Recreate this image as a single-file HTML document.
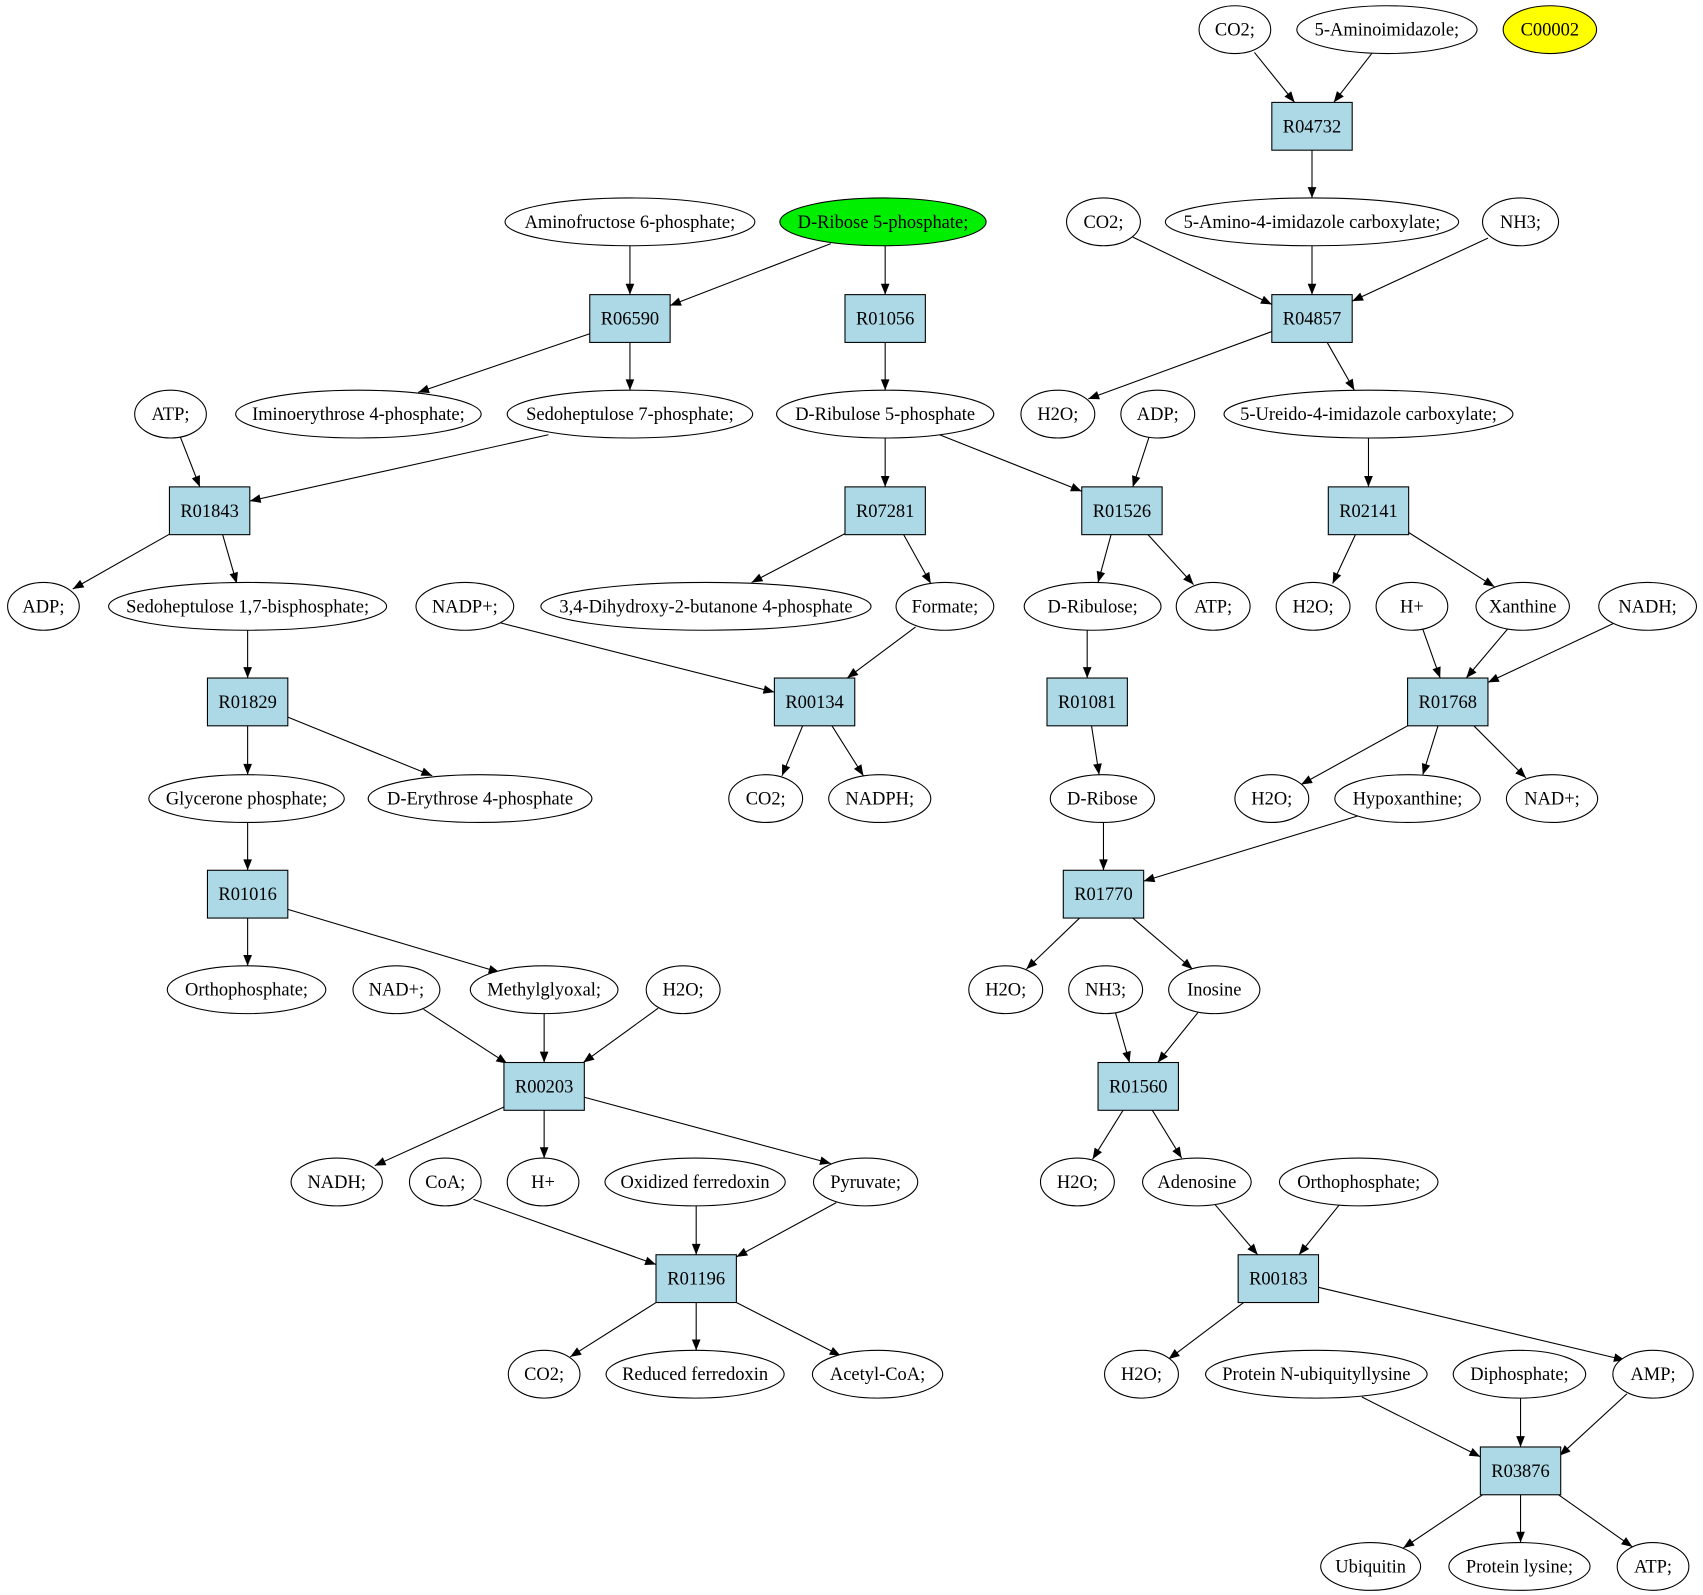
<!DOCTYPE html>
<html><head><meta charset="utf-8"><style>
html,body{margin:0;padding:0;background:#fff;}
svg{display:block;}
text{font-family:"Liberation Serif",serif;font-size:17px;text-anchor:middle;dominant-baseline:central;fill:#000;}
ellipse{fill:#fff;stroke:#000;stroke-width:1;}
rect{fill:#add8e6;stroke:#000;stroke-width:1;}
line{stroke:#000;stroke-width:1;marker-end:url(#a);}
</style></head><body>
<svg width="1703" height="1595" viewBox="0 0 1568 1468" xmlns="http://www.w3.org/2000/svg">
<defs><marker id="a" viewBox="0 0 10 10" refX="10" refY="5" markerWidth="14" markerHeight="10" markerUnits="userSpaceOnUse" orient="auto"><path d="M0,1 L10,5 L0,9 z" fill="#000"/></marker></defs>
<g>
<line x1="1155" y1="48" x2="1192" y2="94"/><line x1="1263" y1="49" x2="1228" y2="94"/>
<line x1="1208" y1="138" x2="1208" y2="182"/><line x1="1043" y1="218" x2="1171" y2="280"/>
<line x1="1208" y1="226" x2="1208" y2="271"/><line x1="1370" y1="219" x2="1245" y2="277"/>
<line x1="580" y1="226" x2="580" y2="271"/><line x1="765" y1="224" x2="617" y2="281"/>
<line x1="815" y1="226" x2="815" y2="271"/><line x1="543" y1="307" x2="385" y2="361"/>
<line x1="580" y1="315" x2="580" y2="359"/><line x1="815" y1="315" x2="815" y2="359"/>
<line x1="1171" y1="305" x2="1002" y2="367"/><line x1="1222" y1="315" x2="1247" y2="359"/>
<line x1="166" y1="402" x2="184" y2="448"/><line x1="505" y1="400" x2="230" y2="461"/>
<line x1="815" y1="403" x2="815" y2="448"/><line x1="865" y1="400" x2="996" y2="452"/>
<line x1="1058" y1="402" x2="1043" y2="448"/><line x1="1260" y1="403" x2="1260" y2="448"/>
<line x1="157" y1="491" x2="67" y2="542"/><line x1="205" y1="492" x2="218" y2="537"/>
<line x1="780" y1="490" x2="692" y2="536"/><line x1="832" y1="492" x2="857" y2="537"/>
<line x1="1023" y1="492" x2="1011" y2="536"/><line x1="1057" y1="492" x2="1099" y2="538"/>
<line x1="1248" y1="492" x2="1227" y2="537"/><line x1="1297" y1="490" x2="1376" y2="540"/>
<line x1="228" y1="580" x2="228" y2="624"/><line x1="460" y1="573" x2="713" y2="637"/>
<line x1="843" y1="577" x2="780" y2="624"/><line x1="1001" y1="580" x2="1001" y2="624"/>
<line x1="1310" y1="579" x2="1326" y2="624"/><line x1="1388" y1="579" x2="1350" y2="624"/>
<line x1="1485" y1="574" x2="1370" y2="628"/><line x1="228" y1="668" x2="228" y2="713"/>
<line x1="265" y1="660" x2="398" y2="714"/><line x1="739" y1="668" x2="720" y2="714"/>
<line x1="766" y1="668" x2="795" y2="714"/><line x1="1005" y1="668" x2="1012" y2="713"/>
<line x1="1296" y1="668" x2="1198" y2="722"/><line x1="1324" y1="668" x2="1310" y2="713"/>
<line x1="1357" y1="668" x2="1405" y2="716"/><line x1="228" y1="757" x2="228" y2="801"/>
<line x1="1016" y1="757" x2="1016" y2="801"/><line x1="1250" y1="751" x2="1053" y2="811"/>
<line x1="228" y1="845" x2="228" y2="889"/><line x1="265" y1="837" x2="460" y2="895"/>
<line x1="994" y1="845" x2="945" y2="892"/><line x1="1043" y1="845" x2="1098" y2="892"/>
<line x1="390" y1="929" x2="467" y2="979"/><line x1="501" y1="933" x2="501" y2="978"/>
<line x1="606" y1="928" x2="537" y2="978"/><line x1="1027" y1="932" x2="1040" y2="978"/>
<line x1="1103" y1="932" x2="1066" y2="978"/><line x1="464" y1="1019" x2="345" y2="1073"/>
<line x1="501" y1="1022" x2="501" y2="1066"/><line x1="538" y1="1010" x2="765" y2="1071"/>
<line x1="1034" y1="1022" x2="1006" y2="1067"/><line x1="1061" y1="1022" x2="1088" y2="1066"/>
<line x1="436" y1="1104" x2="604" y2="1164"/><line x1="641" y1="1110" x2="641" y2="1155"/>
<line x1="770" y1="1107" x2="678" y2="1157"/><line x1="1118" y1="1108" x2="1158" y2="1155"/>
<line x1="1234" y1="1108" x2="1196" y2="1155"/><line x1="604" y1="1199" x2="525" y2="1249"/>
<line x1="641" y1="1199" x2="641" y2="1243"/><line x1="678" y1="1199" x2="774" y2="1248"/>
<line x1="1145" y1="1199" x2="1076" y2="1251"/><line x1="1214" y1="1185" x2="1496" y2="1252"/>
<line x1="1254" y1="1286" x2="1363" y2="1341"/><line x1="1400" y1="1287" x2="1400" y2="1332"/>
<line x1="1498" y1="1283" x2="1436" y2="1340"/><line x1="1365" y1="1376" x2="1292" y2="1425"/>
<line x1="1400" y1="1376" x2="1400" y2="1420"/><line x1="1435" y1="1376" x2="1503" y2="1424"/>
</g>
<g>
<rect x="1171" y="94" width="74" height="44"/><text x="1208" y="116">R04732</text>
<rect x="543" y="271" width="74" height="44"/><text x="580" y="293">R06590</text>
<rect x="778" y="271" width="74" height="44"/><text x="815" y="293">R01056</text>
<rect x="1171" y="271" width="74" height="44"/><text x="1208" y="293">R04857</text>
<rect x="156" y="448" width="74" height="44"/><text x="193" y="470">R01843</text>
<rect x="778" y="448" width="74" height="44"/><text x="815" y="470">R07281</text>
<rect x="996" y="448" width="74" height="44"/><text x="1033" y="470">R01526</text>
<rect x="1223" y="448" width="74" height="44"/><text x="1260" y="470">R02141</text>
<rect x="191" y="624" width="74" height="44"/><text x="228" y="646">R01829</text>
<rect x="713" y="624" width="74" height="44"/><text x="750" y="646">R00134</text>
<rect x="964" y="624" width="74" height="44"/><text x="1001" y="646">R01081</text>
<rect x="1296" y="624" width="74" height="44"/><text x="1333" y="646">R01768</text>
<rect x="191" y="801" width="74" height="44"/><text x="228" y="823">R01016</text>
<rect x="979" y="801" width="74" height="44"/><text x="1016" y="823">R01770</text>
<rect x="464" y="978" width="74" height="44"/><text x="501" y="1000">R00203</text>
<rect x="1011" y="978" width="74" height="44"/><text x="1048" y="1000">R01560</text>
<rect x="604" y="1155" width="74" height="44"/><text x="641" y="1177">R01196</text>
<rect x="1140" y="1155" width="74" height="44"/><text x="1177" y="1177">R00183</text>
<rect x="1363" y="1332" width="74" height="44"/><text x="1400" y="1354">R03876</text>
</g>
<g>
<ellipse cx="1137" cy="27" rx="33" ry="22"/><text x="1137" y="27">CO2;</text>
<ellipse cx="1277" cy="27" rx="83" ry="22"/><text x="1277" y="27">5-Aminoimidazole;</text>
<ellipse cx="1427" cy="27" rx="43" ry="22" style="fill:#ffff00"/><text x="1427" y="27">C00002</text>
<ellipse cx="580" cy="204" rx="115" ry="22"/><text x="580" y="204">Aminofructose 6-phosphate;</text>
<ellipse cx="813" cy="204" rx="95" ry="22" style="fill:#00ee00"/><text x="813" y="204">D-Ribose 5-phosphate;</text>
<ellipse cx="1016" cy="204" rx="34" ry="22"/><text x="1016" y="204">CO2;</text>
<ellipse cx="1208" cy="204" rx="135" ry="22"/><text x="1208" y="204">5-Amino-4-imidazole carboxylate;</text>
<ellipse cx="1400" cy="204" rx="35" ry="22"/><text x="1400" y="204">NH3;</text>
<ellipse cx="157" cy="381" rx="33" ry="22"/><text x="157" y="381">ATP;</text>
<ellipse cx="330" cy="381" rx="113" ry="22"/><text x="330" y="381">Iminoerythrose 4-phosphate;</text>
<ellipse cx="580" cy="381" rx="113" ry="22"/><text x="580" y="381">Sedoheptulose 7-phosphate;</text>
<ellipse cx="815" cy="381" rx="100" ry="22"/><text x="815" y="381">D-Ribulose 5-phosphate</text>
<ellipse cx="974" cy="381" rx="34" ry="22"/><text x="974" y="381">H2O;</text>
<ellipse cx="1066" cy="381" rx="34" ry="22"/><text x="1066" y="381">ADP;</text>
<ellipse cx="1260" cy="381" rx="133" ry="22"/><text x="1260" y="381">5-Ureido-4-imidazole carboxylate;</text>
<ellipse cx="40" cy="558" rx="33" ry="22"/><text x="40" y="558">ADP;</text>
<ellipse cx="228" cy="558" rx="128" ry="22"/><text x="228" y="558">Sedoheptulose 1,7-bisphosphate;</text>
<ellipse cx="428" cy="558" rx="45" ry="22"/><text x="428" y="558">NADP+;</text>
<ellipse cx="650" cy="558" rx="152" ry="22"/><text x="650" y="558">3,4-Dihydroxy-2-butanone 4-phosphate</text>
<ellipse cx="870" cy="558" rx="45" ry="22"/><text x="870" y="558">Formate;</text>
<ellipse cx="1006" cy="558" rx="63" ry="22"/><text x="1006" y="558">D-Ribulose;</text>
<ellipse cx="1117" cy="558" rx="34" ry="22"/><text x="1117" y="558">ATP;</text>
<ellipse cx="1209" cy="558" rx="34" ry="22"/><text x="1209" y="558">H2O;</text>
<ellipse cx="1300" cy="558" rx="33" ry="22"/><text x="1300" y="558">H+</text>
<ellipse cx="1402" cy="558" rx="43" ry="22"/><text x="1402" y="558">Xanthine</text>
<ellipse cx="1517" cy="558" rx="45" ry="22"/><text x="1517" y="558">NADH;</text>
<ellipse cx="227" cy="735" rx="90" ry="22"/><text x="227" y="735">Glycerone phosphate;</text>
<ellipse cx="442" cy="735" rx="103" ry="22"/><text x="442" y="735">D-Erythrose 4-phosphate</text>
<ellipse cx="705" cy="735" rx="34" ry="22"/><text x="705" y="735">CO2;</text>
<ellipse cx="810" cy="735" rx="47" ry="22"/><text x="810" y="735">NADPH;</text>
<ellipse cx="1015" cy="735" rx="48" ry="22"/><text x="1015" y="735">D-Ribose</text>
<ellipse cx="1171" cy="735" rx="34" ry="22"/><text x="1171" y="735">H2O;</text>
<ellipse cx="1296" cy="735" rx="67" ry="22"/><text x="1296" y="735">Hypoxanthine;</text>
<ellipse cx="1429" cy="735" rx="42" ry="22"/><text x="1429" y="735">NAD+;</text>
<ellipse cx="227" cy="911" rx="73" ry="22"/><text x="227" y="911">Orthophosphate;</text>
<ellipse cx="365" cy="911" rx="40" ry="22"/><text x="365" y="911">NAD+;</text>
<ellipse cx="501" cy="911" rx="68" ry="22"/><text x="501" y="911">Methylglyoxal;</text>
<ellipse cx="629" cy="911" rx="34" ry="22"/><text x="629" y="911">H2O;</text>
<ellipse cx="926" cy="911" rx="34" ry="22"/><text x="926" y="911">H2O;</text>
<ellipse cx="1018" cy="911" rx="34" ry="22"/><text x="1018" y="911">NH3;</text>
<ellipse cx="1118" cy="911" rx="42" ry="22"/><text x="1118" y="911">Inosine</text>
<ellipse cx="310" cy="1088" rx="42" ry="22"/><text x="310" y="1088">NADH;</text>
<ellipse cx="410" cy="1088" rx="33" ry="22"/><text x="410" y="1088">CoA;</text>
<ellipse cx="500" cy="1088" rx="33" ry="22"/><text x="500" y="1088">H+</text>
<ellipse cx="640" cy="1088" rx="83" ry="22"/><text x="640" y="1088">Oxidized ferredoxin</text>
<ellipse cx="797" cy="1088" rx="48" ry="22"/><text x="797" y="1088">Pyruvate;</text>
<ellipse cx="992" cy="1088" rx="34" ry="22"/><text x="992" y="1088">H2O;</text>
<ellipse cx="1102" cy="1088" rx="50" ry="22"/><text x="1102" y="1088">Adenosine</text>
<ellipse cx="1251" cy="1088" rx="73" ry="22"/><text x="1251" y="1088">Orthophosphate;</text>
<ellipse cx="501" cy="1265" rx="33" ry="22"/><text x="501" y="1265">CO2;</text>
<ellipse cx="640" cy="1265" rx="82" ry="22"/><text x="640" y="1265">Reduced ferredoxin</text>
<ellipse cx="808" cy="1265" rx="60" ry="22"/><text x="808" y="1265">Acetyl-CoA;</text>
<ellipse cx="1051" cy="1265" rx="34" ry="22"/><text x="1051" y="1265">H2O;</text>
<ellipse cx="1212" cy="1265" rx="102" ry="22"/><text x="1212" y="1265">Protein N-ubiquityllysine</text>
<ellipse cx="1399" cy="1265" rx="61" ry="22"/><text x="1399" y="1265">Diphosphate;</text>
<ellipse cx="1522" cy="1265" rx="37" ry="22"/><text x="1522" y="1265">AMP;</text>
<ellipse cx="1262" cy="1442" rx="46" ry="22"/><text x="1262" y="1442">Ubiquitin</text>
<ellipse cx="1399" cy="1442" rx="65" ry="22"/><text x="1399" y="1442">Protein lysine;</text>
<ellipse cx="1522" cy="1442" rx="33" ry="22"/><text x="1522" y="1442">ATP;</text>
</g>
</svg>
</body></html>
